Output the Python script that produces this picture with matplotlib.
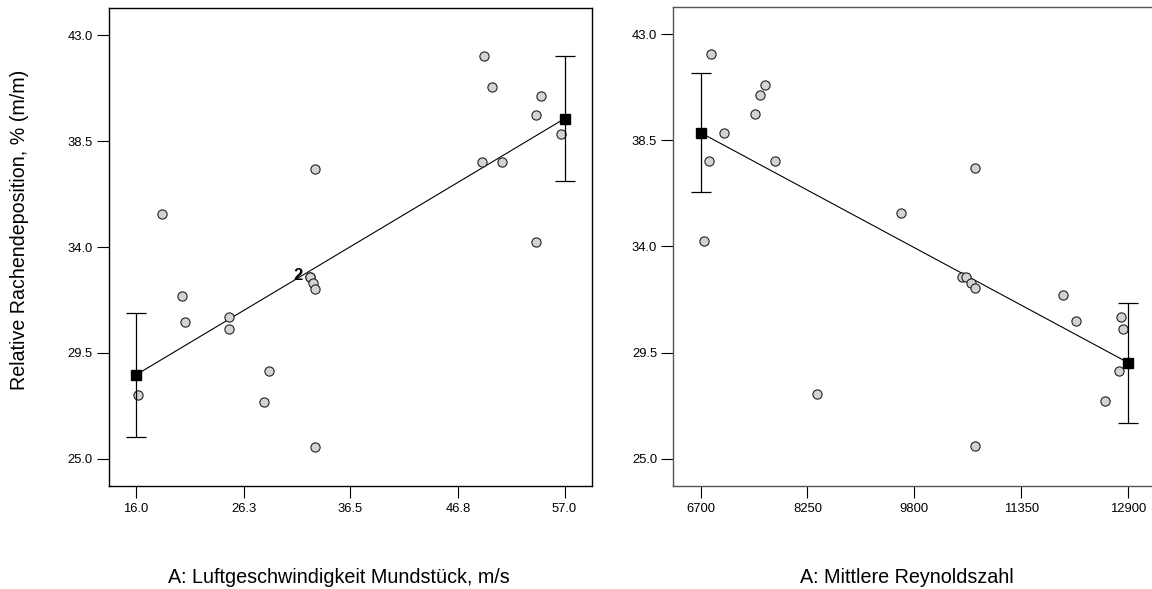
import matplotlib
matplotlib.use("Agg")
import matplotlib.pyplot as plt

plt.rcParams['font.family'] = ['Liberation Sans', 'DejaVu Sans']

# ---- data ----
y_ticks = [25.0, 29.5, 34.0, 38.5, 43.0]
y_ticklabels = ["25.0", "29.5", "34.0", "38.5", "43.0"]

left_ticks = [16.0, 26.3, 36.5, 46.8, 57.0]
left_ticklabels = ["16.0", "26.3", "36.5", "46.8", "57.0"]
left_x = [49.33, 50.04, 54.73, 54.28, 56.64, 49.08, 50.99, 54.28, 33.10, 18.52,
          32.65, 32.65, 32.91, 33.10, 20.37, 20.72, 24.90, 24.93, 28.70, 28.22,
          16.19, 33.10]
left_y = [42.11, 40.80, 40.41, 39.62, 38.81, 37.61, 37.62, 34.21, 37.31, 35.41,
          32.71, 32.71, 32.46, 32.23, 31.92, 30.81, 31.01, 30.50, 28.72, 27.42,
          27.71, 25.52]
left_pred_x = [16.0, 57.0]
left_pred_y = [28.57, 39.45]
left_pred_err = [2.63, 2.65]
left_dup_label = "2"
left_dup_x = 32.65
left_dup_y = 32.71

right_ticks = [6700, 8250, 9800, 11350, 12900]
right_ticklabels = ["6700", "8250", "9800", "11350", "12900"]
right_x = [6849, 7633, 7556, 7494, 7038, 6816, 7778, 10676, 9602, 6748,
           10491, 10549, 10627, 10676, 11957, 12146, 12799, 12823, 12770, 12566,
           8388, 10676]
right_y = [42.14, 40.83, 40.43, 39.62, 38.82, 37.63, 37.63, 37.33, 35.42, 34.23,
           32.71, 32.71, 32.43, 32.23, 31.94, 30.82, 31.02, 30.51, 28.73, 27.43,
           27.73, 25.52]
right_pred_x = [6700, 12900]
right_pred_y = [38.82, 29.07]
right_pred_err = [2.52, 2.54]

ylabel = "Relative Rachendeposition, % (m/m)"
left_xlabel = "A: Luftgeschwindigkeit Mundstück, m/s"
right_xlabel = "A: Mittlere Reynoldszahl"

W, H = 1152, 589
fig = plt.figure(figsize=(W / 100, H / 100), dpi=100)

def px_axes(x0, y0, x1, y1):
    return fig.add_axes([x0 / W, 1 - y1 / H, (x1 - x0) / W, (y1 - y0) / H])

axL = px_axes(109, 8, 591.7, 486)
axR = px_axes(673.3, 6.5, 1155, 486)

def style(ax, xt, xtl, xlim, ylim, spine_color):
    ax.set_xlim(*xlim)
    ax.set_ylim(*ylim)
    ax.set_xticks(xt)
    ax.set_xticklabels(xtl)
    ax.set_yticks(y_ticks)
    ax.set_yticklabels(y_ticklabels)
    ax.tick_params(direction='out', length=8.6, width=0.8, labelsize=9.4,
                   color='black', pad=3)
    ax.tick_params(axis='x', pad=4)
    for s in ax.spines.values():
        s.set_linewidth(1.0)
        s.set_color(spine_color)

def draw(ax, xs, ys, px, py, pe):
    ax.plot(px, py, color='black', lw=0.8, zorder=2)
    ax.scatter(xs, ys, s=44, facecolor='#d3d3d3', edgecolor='#222222',
               linewidths=0.8, zorder=3)
    ax.errorbar(px, py, yerr=pe, fmt='s', color='black', ms=7, mfc='black',
                mec='black', ecolor='black', elinewidth=0.9, capsize=7.5,
                capthick=0.9, zorder=4)

draw(axL, left_x, left_y, left_pred_x, left_pred_y, left_pred_err)
draw(axR, right_x, right_y, right_pred_x, right_pred_y, right_pred_err)

style(axL, left_ticks, left_ticklabels, (13.42, 59.6), (23.85, 44.15), 'black')
style(axR, right_ticks, right_ticklabels, (6304, 13290), (23.84, 44.17), '#555555')

axL.annotate(left_dup_label, (left_dup_x, left_dup_y), xytext=(-8.5, 1.5),
             textcoords='offset points', ha='center', va='center',
             fontsize=12, fontweight='bold', zorder=5)

fig.text(20 / W, 1 - 230 / H, ylabel, rotation=90, ha='center', va='center',
         fontsize=14.1)
fig.text(168 / W, 1 - 583 / H, left_xlabel, ha='left', va='baseline', fontsize=14.2)
fig.text(800 / W, 1 - 583 / H, right_xlabel, ha='left', va='baseline', fontsize=14.2)

fig.savefig("out.png", dpi=100)
